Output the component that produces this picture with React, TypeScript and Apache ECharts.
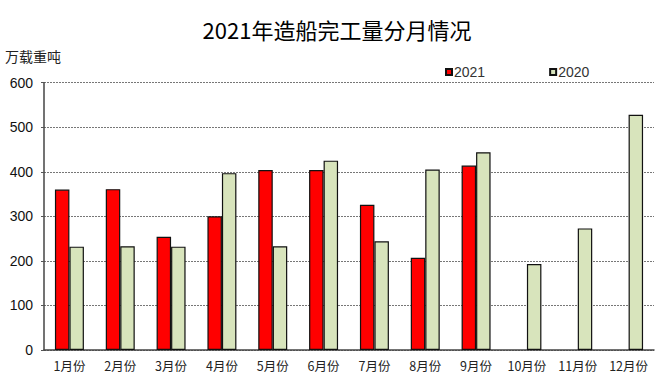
import React, { useEffect, useRef } from "react";
import * as echarts from "echarts";

const categories = ["1月份", "2月份", "3月份", "4月份", "5月份", "6月份", "7月份", "8月份", "9月份", "10月份", "11月份", "12月份"];
const values2021: (number | null)[] = [360, 361, 254, 300, 404, 404, 326, 207, 414, null, null, null];
const values2020: number[] = [232, 233, 232, 397, 233, 425, 244, 405, 444, 193, 273, 528];
const yTicks = [0, 100, 200, 300, 400, 500, 600];

export default function App() {
  const ref = useRef<HTMLDivElement>(null);
  useEffect(() => {
    if (!ref.current) return;
    const chart = echarts.init(ref.current, undefined, { renderer: "svg" });
    chart.setOption({
      animation: false,
      backgroundColor: "#ffffff",
      title: {
        text: "2021年造船完工量分月情况",
        left: 332,
        textAlign: "center",
        top: 13,
        textStyle: { fontSize: 22, fontWeight: "normal", color: "#000", fontFamily: "Noto Sans CJK SC" },
      },
      legend: {
        left: 440,
        top: 60,
        icon: "rect",
        itemWidth: 6,
        itemHeight: 6,
        itemGap: 64,
        textStyle: { fontSize: 14, color: "#333", fontFamily: "Liberation Sans", padding: [0, 0, 0, -3] },
        data: ["2021", "2020"],
      },
      grid: { left: 44, right: 16, top: 82.7, bottom: 30, containLabel: false },
      xAxis: {
        type: "category",
        data: categories,
        axisLine: { lineStyle: { color: "#444", width: 1.5 } },
        axisTick: { inside: true, length: 3, lineStyle: { color: "#555" } },
        axisLabel: { fontSize: 12.5, color: "#222", margin: 9, fontFamily: "Noto Sans CJK SC" },
      },
      yAxis: {
        type: "value",
        min: yTicks[0],
        max: yTicks[yTicks.length - 1],
        interval: 100,
        name: "万载重吨",
        nameLocation: "end",
        nameGap: 20,
        nameTextStyle: { fontSize: 14, color: "#222", align: "left", padding: [0, 0, 0, -39], fontFamily: "Noto Sans CJK SC" },
        axisLine: { show: true, lineStyle: { color: "#444", width: 1.5 } },
        axisTick: { show: true, length: 3, lineStyle: { color: "#555" } },
        axisLabel: { fontSize: 14, color: "#111", margin: 11, fontFamily: "Liberation Sans" },
        splitLine: { lineStyle: { color: "#777", type: [2, 1], width: 1 } },
      },
      series: [
        {
          name: "2021",
          type: "bar",
          data: values2021,
          barWidth: "28.5%",
          barGap: "0%",
          itemStyle: { color: "#ff0000", borderColor: "#111", borderWidth: 1.2 },
        },
        {
          name: "2020",
          type: "bar",
          data: values2020,
          barWidth: "28.5%",
          itemStyle: { color: "#d8e4bc", borderColor: "#111", borderWidth: 1.2 },
        },
      ],
    });
    return () => chart.dispose();
  }, []);
  return <div ref={ref} style={{ width: 670, height: 380, position: "absolute", left: 0, top: 0 }} />;
}
